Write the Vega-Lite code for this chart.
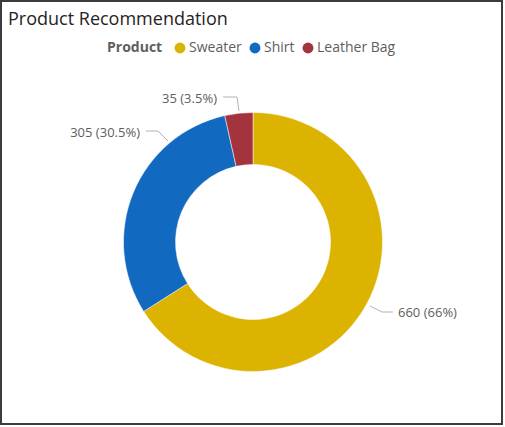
{
  "$schema": "https://vega.github.io/schema/vega-lite/v6.json",
  "width": 501,
  "height": 423,
  "autosize": {"type": "none"},
  "padding": {"left": 1, "top": 1, "right": 3, "bottom": 3},
  "background": "#ffffff",
  "config": {
    "view": {"stroke": "#3c3c3c", "strokeWidth": 2},
    "font": "Open Sans"
  },
  "title": {
    "text": "Product Recommendation",
    "anchor": "start",
    "frame": "group",
    "orient": "top",
    "offset": -28,
    "dx": 7,
    "fontSize": 18,
    "fontWeight": "normal",
    "font": "Open Sans",
    "color": "#252423"
  },
  "datasets": {
    "slices": [
      {"product": "Sweater", "count": 660, "rank": 1},
      {"product": "Shirt", "count": 305, "rank": 2},
      {"product": "Leather Bag", "count": 35, "rank": 3}
    ],
    "leaders": [
      {"product": "Sweater", "step": 1, "px": 117, "py": -64},
      {"product": "Sweater", "step": 2, "px": 129, "py": -70},
      {"product": "Sweater", "step": 3, "px": 140, "py": -70},
      {"product": "Shirt", "step": 1, "px": -107, "py": 111},
      {"product": "Shirt", "step": 2, "px": -95, "py": 111},
      {"product": "Shirt", "step": 3, "px": -85, "py": 101},
      {"product": "Leather Bag", "step": 1, "px": -30, "py": 145},
      {"product": "Leather Bag", "step": 2, "px": -16, "py": 145},
      {"product": "Leather Bag", "step": 3, "px": -14, "py": 131}
    ],
    "labels": [
      {"product": "Sweater", "label": "660 (66%)", "lx": 145, "ly": -71, "side": "right"},
      {"product": "Shirt", "label": "305 (30.5%)", "lx": -113, "ly": 109, "side": "left"},
      {"product": "Leather Bag", "label": "35 (3.5%)", "lx": -36, "ly": 143, "side": "left"}
    ]
  },
  "layer": [
    {
      "data": {"name": "leaders"},
      "mark": {"type": "line", "color": "#b3b3b3", "strokeWidth": 1},
      "encoding": {
        "x": {"field": "px", "type": "quantitative", "axis": null, "scale": {"domain": [-252, 249], "nice": false, "zero": false}},
        "y": {"field": "py", "type": "quantitative", "axis": null, "scale": {"domain": [-182, 241], "nice": false, "zero": false}},
        "detail": {"field": "product"},
        "order": {"field": "step", "type": "quantitative"}
      }
    },
    {
      "data": {"name": "slices"},
      "mark": {"type": "arc", "outerRadius": 129.5, "innerRadius": 77.5, "stroke": "#ffffff", "strokeWidth": 0.5},
      "encoding": {
        "x": {"datum": 0, "type": "quantitative", "axis": null},
        "y": {"datum": 0, "type": "quantitative", "axis": null},
        "theta": {"field": "count", "type": "quantitative", "stack": true},
        "order": {"field": "rank", "type": "quantitative"},
        "color": {
          "field": "product",
          "type": "nominal",
          "sort": null,
          "scale": {"domain": ["Sweater", "Shirt", "Leather Bag"], "range": ["#dbb300", "#1269c0", "#a3333d"]},
          "legend": {
            "orient": "none",
            "legendX": 106,
            "legendY": 40,
            "direction": "horizontal",
            "title": "Product",
            "titleOrient": "left",
            "titleFontWeight": "bold",
            "titleFontSize": 14,
            "titleColor": "#605e5c",
            "titlePadding": 10,
            "labelFontSize": 14,
            "labelColor": "#605e5c",
            "labelOffset": 2,
            "columnPadding": 6,
            "symbolType": "circle",
            "symbolSize": 120,
            "symbolStrokeWidth": 0
          }
        }
      }
    },
    {
      "data": {"name": "labels"},
      "transform": [{"filter": "datum.side === 'right'"}],
      "mark": {"type": "text", "align": "left", "baseline": "middle", "fontSize": 13, "color": "#605e5c"},
      "encoding": {
        "x": {"field": "lx", "type": "quantitative", "axis": null},
        "y": {"field": "ly", "type": "quantitative", "axis": null},
        "text": {"field": "label"}
      }
    },
    {
      "data": {"name": "labels"},
      "transform": [{"filter": "datum.side === 'left'"}],
      "mark": {"type": "text", "align": "right", "baseline": "middle", "fontSize": 13, "color": "#605e5c"},
      "encoding": {
        "x": {"field": "lx", "type": "quantitative", "axis": null},
        "y": {"field": "ly", "type": "quantitative", "axis": null},
        "text": {"field": "label"}
      }
    }
  ]
}
